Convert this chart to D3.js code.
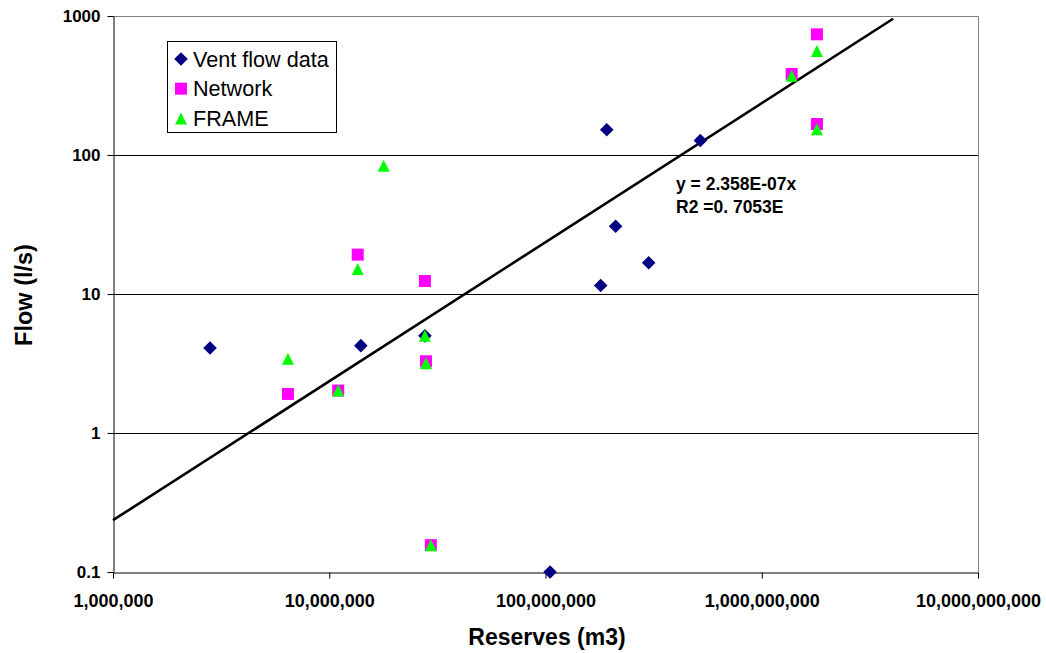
<!DOCTYPE html>
<html>
<head>
<meta charset="utf-8">
<script src="https://cdn.jsdelivr.net/npm/d3@7"></script>
<style>
  html, body { margin: 0; padding: 0; background: #fff; }
  svg { display: block; font-family: Arial, "Liberation Sans", sans-serif; }
</style>
</head>
<body>
<svg id="chart" width="1046" height="653"></svg>
<script>
// Reserves (m3) vs flow (l/s), log-log
const ventReserves = [2.81e6, 1.40e7, 2.77e7, 1.05e8, 1.92e8, 5.2e8, 2.11e8, 3.0e8, 1.80e8];
const ventFlow     = [4.09,   4.25,   5.0,    0.1,    152,    127,   30.7,   16.8,  11.5];

const networkReserves = [6.44e6, 1.354e7, 2.77e7, 2.80e7, 1.10e7, 2.95e7, 1.80e9, 1.375e9, 1.80e9];
const networkFlow     = [1.91,   19.2,    12.4,   3.28,   2.02,   0.156,  738,    383,     167];

const frameReserves = [1.785e7, 1.354e7, 6.44e6, 1.10e7, 2.77e7, 2.80e7, 2.95e7, 1.80e9, 1.375e9, 1.80e9];
const frameFlow     = [83.8,    15.1,    3.42,   2.02,   5.0,    3.17,   0.156,  560,    372,     153];

// Linear trend through the origin: y = a * x
const trendSlope = 2.358e-7;
const trendReserves = [1e6, 4.05e9];
const trendLabels = ["y = 2.358E-07x", "R2 =0. 7053E"];

const xTicks = [1e6, 1e7, 1e8, 1e9, 1e10];
const xTickLabels = ["1,000,000", "10,000,000", "100,000,000", "1,000,000,000", "10,000,000,000"];
const yTicks = [0.1, 1, 10, 100, 1000];
const yTickLabels = ["0.1", "1", "10", "100", "1000"];

const seriesNames = ["Vent flow data", "Network", "FRAME"];
const seriesColors = ["#000080", "#FF00FF", "#00FF00"];

const xTitle = "Reserves (m3)";
const yTitle = "Flow (l/s)";

const svg = d3.select("#chart");
const plot = { left: 113, right: 978, top: 16, bottom: 572 };

const x = d3.scaleLog().domain([1e6, 1e10]).range([plot.left, plot.right]);
const y = d3.scaleLog().domain([0.1, 1000]).range([plot.bottom, plot.top]);

// Marker shapes
const diamondType = { draw(ctx, size) { const r = Math.sqrt(size) / 2;
  ctx.moveTo(0, -r); ctx.lineTo(r, 0); ctx.lineTo(0, r); ctx.lineTo(-r, 0); ctx.closePath(); } };
const squareType = { draw(ctx, size) { const r = Math.sqrt(size) / 2;
  ctx.rect(-r, -r, 2 * r, 2 * r); } };
const triangleType = { draw(ctx, size) { const r = Math.sqrt(size) / 2;
  ctx.moveTo(0, -r); ctx.lineTo(r, r); ctx.lineTo(-r, r); ctx.closePath(); } };
const shapes = [
  d3.symbol().type(diamondType).size(13.6 * 13.6),
  d3.symbol().type(squareType).size(12 * 12),
  d3.symbol().type(triangleType).size(12 * 12)
];

// Horizontal gridlines
svg.append("g")
  .selectAll("line")
  .data(yTicks.slice(1, -1))
  .join("line")
  .attr("x1", plot.left).attr("x2", plot.right)
  .attr("y1", d => Math.round(y(d)) + 0.5).attr("y2", d => Math.round(y(d)) + 0.5)
  .attr("stroke", "#000").attr("stroke-width", 1);

// Plot frame: top and right in gray
svg.append("path")
  .attr("d", `M${plot.left},${plot.top + 0.5}H${plot.right + 0.5}V${plot.bottom}`)
  .attr("fill", "none").attr("stroke", "#808080").attr("stroke-width", 1);

// Axes
const xAxis = d3.axisBottom(x).tickValues(xTicks).tickFormat((d, i) => xTickLabels[i]).tickSize(6).tickSizeOuter(0);
const gx = svg.append("g").attr("transform", `translate(0,${plot.bottom + 0.5})`).call(xAxis);
gx.select(".domain").attr("stroke", "#000");
gx.selectAll(".tick line").attr("stroke", "#000");
gx.selectAll(".tick text")
  .attr("y", 22).attr("dy", "0.71em")
  .attr("font-size", 18).attr("font-weight", "bold").attr("fill", "#000")
  .attr("font-family", "Arial, 'Liberation Sans', sans-serif");

const yAxis = d3.axisLeft(y).tickValues(yTicks).tickFormat((d, i) => yTickLabels[i]).tickSize(6).tickSizeOuter(0);
const gy = svg.append("g").attr("transform", `translate(${plot.left + 0.5},0)`).call(yAxis);
gy.select(".domain").attr("stroke", "#000");
gy.selectAll(".tick line").attr("stroke", "#000");
gy.selectAll(".tick text")
  .attr("x", -13)
  .attr("font-size", 17).attr("font-weight", "bold").attr("fill", "#000")
  .attr("font-family", "Arial, 'Liberation Sans', sans-serif");

// Trend line
const line = d3.line().x(d => x(d)).y(d => y(trendSlope * d));
svg.append("path")
  .datum(trendReserves)
  .attr("d", line)
  .attr("fill", "none").attr("stroke", "#000").attr("stroke-width", 2.6);

// Series markers
const series = [
  { xs: ventReserves, ys: ventFlow },
  { xs: networkReserves, ys: networkFlow },
  { xs: frameReserves, ys: frameFlow }
];
series.forEach((s, i) => {
  svg.append("g")
    .selectAll("path")
    .data(s.xs.map((v, j) => [v, s.ys[j]]))
    .join("path")
    .attr("transform", d => `translate(${x(d[0])},${y(d[1])})`)
    .attr("d", shapes[i]())
    .attr("fill", seriesColors[i]);
});

// Trend equation
svg.append("text")
  .attr("x", 676).attr("y", 190)
  .attr("font-size", 17.5).attr("font-weight", "bold")
  .selectAll("tspan")
  .data(trendLabels)
  .join("tspan")
  .attr("x", 676).attr("dy", (d, i) => i === 0 ? 0 : 23)
  .text(d => d);

// Legend
const legend = svg.append("g");
legend.append("rect")
  .attr("x", 167.5).attr("y", 41.5).attr("width", 169).attr("height", 91)
  .attr("fill", "#fff").attr("stroke", "#000").attr("stroke-width", 1);
seriesNames.forEach((name, i) => {
  const cy = 59 + i * 29.7;
  legend.append("path")
    .attr("transform", `translate(181,${cy})`)
    .attr("d", shapes[i]())
    .attr("fill", seriesColors[i]);
  legend.append("text")
    .attr("x", 193).attr("y", cy + 7.5)
    .attr("font-size", 21.6)
    .attr("fill", "#000")
    .text(name);
});

// Axis titles
svg.append("text")
  .attr("x", 547).attr("y", 645)
  .attr("text-anchor", "middle")
  .attr("font-size", 23).attr("font-weight", "bold")
  .text(xTitle);
svg.append("text")
  .attr("transform", "translate(32,295) rotate(-90)")
  .attr("text-anchor", "middle")
  .attr("font-size", 23.5).attr("font-weight", "bold")
  .text(yTitle);
</script>
</body>
</html>
